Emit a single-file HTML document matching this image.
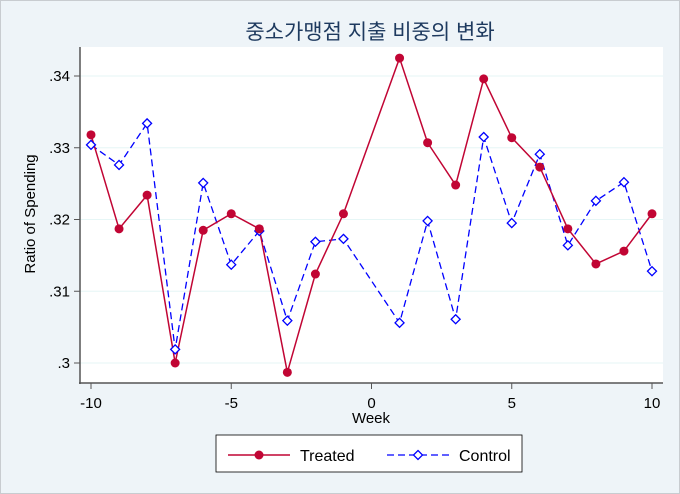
<!DOCTYPE html>
<html><head><meta charset="utf-8"><style>body{margin:0;background:#eef4f8}svg{display:block;font-family:"Liberation Sans","Noto Sans CJK KR",sans-serif}</style></head>
<body>
<svg id="c" width="680" height="494">
<rect x="0.5" y="0.5" width="679" height="493" fill="#eef4f8" stroke="#c8ccd0"/>
<rect x="80" y="47" width="583" height="336" fill="#ffffff"/>
<text x="370" y="39" font-size="21" text-anchor="middle" fill="#1e3a5f">중소가맹점 지출 비중의 변화</text>
<g id="grid"></g><g id="axes"></g><g id="series"></g>
<text x="371" y="423" font-size="15" text-anchor="middle" fill="#000">Week</text>
<text transform="translate(35,214) rotate(-90)" font-size="15" text-anchor="middle" fill="#000">Ratio of Spending</text>
<g>
<rect x="216" y="435" width="306" height="37" fill="#fff" stroke="#000" stroke-width="0.8"/>
<g>
<line x1="228" y1="455" x2="290" y2="455" stroke="#c10534" stroke-width="1.5"/>
<circle cx="259" cy="455" r="4.5" fill="#c10534"/>
<text x="300" y="461" font-size="16">Treated</text></g>
<g>
<line x1="387" y1="455" x2="449" y2="455" stroke="#0000ff" stroke-width="1.3" stroke-dasharray="7,4"/>
<path d="M418 450.5 L422.5 455 L418 459.5 L413.5 455 Z" fill="#fff" stroke="#0000ff" stroke-width="1.3"/>
<text x="459" y="461" font-size="16">Control</text></g>
</g>
</svg>
<script>
const weeks=[-10,-9,-8,-7,-6,-5,-4,-3,-2,-1,1,2,3,4,5,6,7,8,9,10];
const treated=[.3318,.3187,.3234,.3000,.3185,.3208,.3187,.2987,.3124,.3208,.3425,.3307,.3248,.3396,.3314,.3273,.3187,.3138,.3156,.3208];
const control=[.3304,.3276,.3334,.3019,.3251,.3137,.3184,.3059,.3169,.3173,.3056,.3198,.3061,.3315,.3195,.3291,.3164,.3226,.3252,.3128];
const xTicks=[-10,-5,0,5,10];
const yTicks=[.30,.31,.32,.33,.34];
const yTickLabels=[".3",".31",".32",".33",".34"];
const NS="http://www.w3.org/2000/svg";
const X=v=>91+(v+10)*28.05, Y=v=>363-(v-.30)*7175;
function mk(t,a,p){const e=document.createElementNS(NS,t);for(const k in a)e.setAttribute(k,a[k]);p.appendChild(e);return e;}
const g=document.getElementById('grid'),ax=document.getElementById('axes'),s=document.getElementById('series');
yTicks.forEach((v,i)=>{
 const l=mk('line',{x1:80,x2:663,y1:Y(v),y2:Y(v),stroke:'#e6f6f6','stroke-width':1},g);
 
 
 const t=mk('line',{x1:74,x2:80,y1:Y(v),y2:Y(v),stroke:'#555'},ax);
 
 
 const tx=mk('text',{x:70,y:Y(v)+5,'font-size':15,'text-anchor':'end'},ax);tx.textContent=yTickLabels[i];
 
 
});
xTicks.forEach(v=>{
 const t=mk('line',{x1:X(v),x2:X(v),y1:383,y2:389,stroke:'#555'},ax);
 
 
 const tx=mk('text',{x:X(v),y:408,'font-size':15,'text-anchor':'middle'},ax);tx.textContent=v;
 
 
});
const a1=mk('line',{x1:80,x2:80,y1:47,y2:384,stroke:'#555','stroke-width':1.5},ax);


const a2=mk('line',{x1:79,x2:663,y1:383,y2:383,stroke:'#555','stroke-width':1.5},ax);


const pc=control.map((v,i)=>X(weeks[i])+','+Y(v)).join(' ');
const lc=mk('polyline',{points:pc,fill:'none',stroke:'#0000ff','stroke-width':1.3,'stroke-dasharray':'7,4'},s);


const pt=treated.map((v,i)=>X(weeks[i])+','+Y(v)).join(' ');
const lt=mk('polyline',{points:pt,fill:'none',stroke:'#c10534','stroke-width':1.5},s);


control.forEach((v,i)=>{const x=X(weeks[i]),y=Y(v);
 const d=mk('path',{d:`M${x} ${y-4.5}L${x+4.5} ${y}L${x} ${y+4.5}L${x-4.5} ${y}Z`,fill:'#fff',stroke:'#0000ff','stroke-width':1.3},s);
 
 });
treated.forEach((v,i)=>{
 const c=mk('circle',{cx:X(weeks[i]),cy:Y(v),r:4.5,fill:'#c10534'},s);
 
 });
</script>
</body></html>
